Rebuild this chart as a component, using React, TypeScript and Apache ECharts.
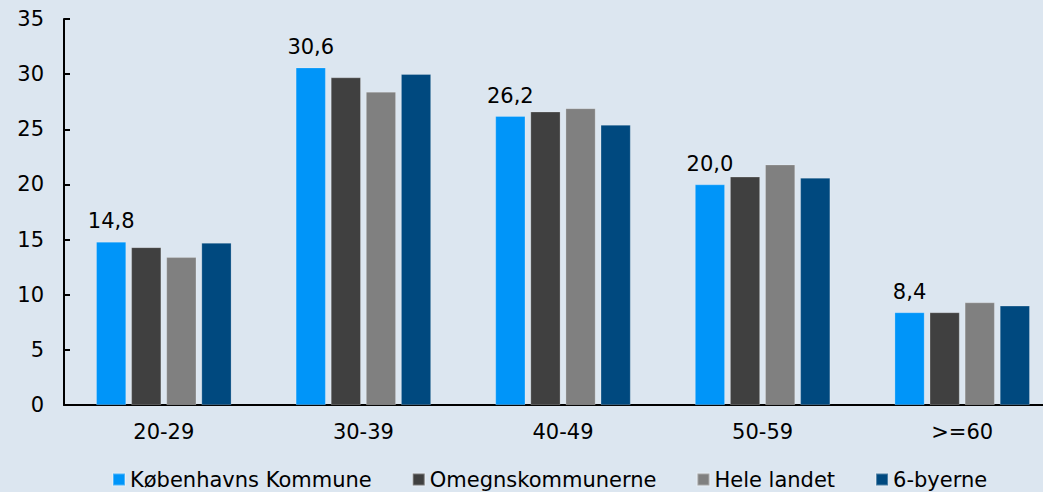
import React, { useEffect, useRef } from "react";
import * as echarts from "echarts";

const categories = ["20-29", "30-39", "40-49", "50-59", ">=60"];
const seriesNames = ["Københavns Kommune", "Omegnskommunerne", "Hele landet", "6-byerne"];
const kbh = [14.8, 30.6, 26.2, 20.0, 8.4];
const omegn = [14.3, 29.7, 26.6, 20.7, 8.4];
const hele = [13.4, 28.4, 26.9, 21.8, 9.3];
const seksByer = [14.7, 30.0, 25.4, 20.6, 9.0];
const colors = ["#0095f9", "#404040", "#808080", "#00497f"];

const FONT = "DejaVu Sans";
const FS = 21;

export default function App() {
  const ref = useRef<HTMLDivElement>(null);
  useEffect(() => {
    if (!ref.current) return;
    const chart = echarts.init(ref.current, undefined, { renderer: "svg" });
    const data = [kbh, omegn, hele, seksByer];
    chart.setOption({
      animation: false,
      backgroundColor: "#dce6f0",
      textStyle: { fontFamily: FONT },
      grid: { left: 64, width: 998, top: 19, bottom: 87, outerBoundsMode: "none", containLabel: false },
      legend: {
        top: 469,
        left: 112,
        padding: 0,
        itemWidth: 12,
        itemHeight: 12,
        itemGap: 40,
        icon: "rect",
        textStyle: { fontFamily: FONT, fontSize: FS, color: "#000", padding: [0, 0, 0, 0] },
        data: seriesNames,
      },
      xAxis: {
        type: "category",
        data: categories,
        axisLine: { lineStyle: { color: "#000", width: 2 } },
        axisTick: { show: false },
        axisLabel: { fontFamily: FONT, fontSize: FS, color: "#000", margin: 16 },
      },
      yAxis: {
        type: "value",
        min: 0,
        max: 35,
        interval: 5,
        splitLine: { show: false },
        axisLine: { show: true, lineStyle: { color: "#000", width: 2 } },
        axisTick: { show: true, inside: true, length: 6, lineStyle: { color: "#000", width: 2 } },
        axisLabel: { fontFamily: FONT, fontSize: FS, color: "#000", margin: 20 },
      },
      series: seriesNames.map((name, i) => ({
        name,
        type: "bar",
        data: data[i],
        barWidth: 30,
        barGap: "17%",
        itemStyle: { color: colors[i], borderColor: "rgba(255,255,255,0.3)", borderWidth: 0.75 },
        label:
          i === 0
            ? {
                show: true,
                position: "top",
                distance: 10,
                fontFamily: FONT,
                fontSize: FS,
                color: "#000",
                formatter: (p: any) => p.value.toFixed(1).replace(".", ","),
              }
            : { show: false },
      })),
    });
    return () => chart.dispose();
  }, []);
  return <div ref={ref} style={{ width: 1043, height: 492, position: "absolute", left: 0, top: 0 }} />;
}
